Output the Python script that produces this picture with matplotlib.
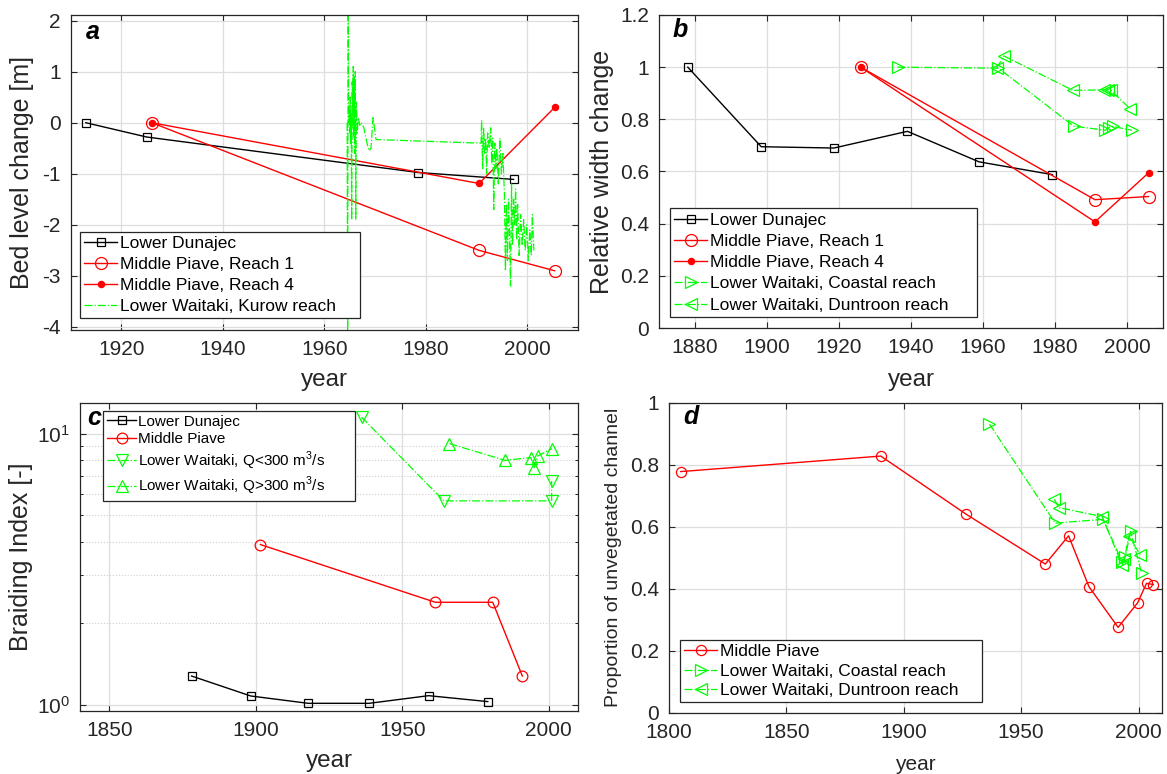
import matplotlib
matplotlib.use("Agg")
import matplotlib.pyplot as plt
from matplotlib.ticker import FormatStrFormatter, FixedLocator, LogLocator, NullFormatter

plt.rcParams['font.family'] = ['Liberation Sans', 'DejaVu Sans']
plt.rcParams['axes.unicode_minus'] = False
plt.rcParams['mathtext.fontset'] = 'custom'
plt.rcParams['mathtext.rm'] = 'Liberation Sans'

RED = (1, 0, 0)
GREEN = (0, 1, 0)
DARK = '#262626'
GRID = '#dedede'

# ---- panel a: bed level change ----
dunajecYearA = [1913, 1925, 1978.5, 1997.3]
dunajecBed = [0, -0.28, -0.975, -1.11]
piaveYearA = [1926, 1990.5, 2005.4]
piave1Bed = [0, -2.5, -2.9]
piave4Bed = [0, -1.19, 0.3]
kurowYear = [1964.5, 1964.6, 1964.7, 1964.8, 1964.9, 1965.0, 1965.1, 1965.2, 1965.3, 1965.4,
             1965.5, 1965.6, 1965.7, 1965.8, 1965.9, 1966.0, 1966.1, 1966.2, 1966.3, 1966.5,
             1966.7, 1967.0, 1967.3, 1967.8, 1968.3, 1968.8, 1969.2, 1969.6, 1970.2, 1990.9,
             1991.0, 1991.2, 1991.4, 1991.6, 1991.8, 1992.0, 1992.2, 1992.5, 1992.8, 1993.0,
             1993.2, 1993.4, 1993.6, 1993.8, 1994.0, 1994.3, 1994.6, 1994.9, 1995.2, 1995.5,
             1995.7, 1995.9, 1996.1, 1996.3, 1996.5, 1996.7, 1996.9, 1997.1, 1997.3, 1997.5,
             1997.7, 1997.9, 1998.1, 1998.4, 1998.7, 1999.0, 1999.3, 1999.6, 1999.9, 2000.2,
             2000.5, 2000.8, 2001.0, 2001.3]
kurowBed = [0.0, -4.2, 2.2, 0.0, 0.3, -0.2, 0.5, -0.4, 0.2, -1.9,
            0.8, -0.1, 1.1, -0.3, 0.9, -0.6, 1.0, -1.9, 0.4, -0.2,
            0.1, -0.05, 0.0, -0.1, -0.35, -0.55, -0.5, 0.1, -0.33, -0.4,
            0.05, -0.9, -0.1, -0.6, -0.3, -1.0, -0.2, -0.5, -0.1, -0.8,
            -0.3, -1.7, -0.4, -0.9, -0.5, -1.2, -0.3, -1.0, -0.6, -1.4,
            -2.9, -1.6, -2.7, -1.5, -2.2, -3.2, -1.2, -2.4, -1.5, -2.0,
            -1.3, -2.3, -1.6, -2.6, -1.8, -2.4, -1.9, -2.5, -2.0, -2.7,
            -2.1, -2.6, -1.8, -2.5]

# ---- panel b: relative width change ----
dunajecYearB = [1878, 1898.4, 1918.6, 1939, 1958.9, 1979.3]
dunajecWidth = [1.0, 0.695, 0.69, 0.754, 0.637, 0.588]
piaveYearB = [1926, 1991.1, 2006]
piave1Width = [1.0, 0.492, 0.504]
piave4Width = [1.0, 0.407, 0.595]
coastalYearB = [1936.3, 1964.3, 1985.2, 1994.0, 1994.9, 1996.0, 2001.4]
coastalWidth = [1.0, 0.996, 0.774, 0.758, 0.768, 0.773, 0.758]
duntroonYearB = [1963.8, 1965.8, 1985.0, 1993.5, 1994.6, 1995.5, 2000.9]
duntroonWidth = [0.996, 1.043, 0.911, 0.913, 0.913, 0.912, 0.84]

# ---- panel c: braiding index ----
dunajecYearC = [1878.1, 1898.3, 1917.9, 1938.7, 1959.0, 1979.2]
dunajecBI = [1.278, 1.079, 1.014, 1.014, 1.082, 1.029]
piaveYearC = [1901.6, 1961.3, 1980.9, 1991.0]
piaveBI = [3.90, 2.39, 2.39, 1.278]
lowQYear = [1936.1, 1964.2, 2001.0, 2001.0]
lowQBI = [11.5, 5.65, 5.65, 6.69]
highQYear = [1966.1, 1985.1, 1993.9, 1995.1, 1996.2, 2001.1]
highQBI = [9.19, 7.97, 8.16, 7.50, 8.26, 8.81]

# ---- panel d: proportion of unvegetated channel ----
piaveYearD = [1805.0, 1890.2, 1926.5, 1960.3, 1970.2, 1978.9, 1991.3, 1999.6, 2003.4, 2006.3]
piaveUnveg = [0.778, 0.828, 0.641, 0.480, 0.571, 0.407, 0.276, 0.355, 0.418, 0.414]
coastalYearD = [1936.5, 1964.5, 1984.9, 1993.0, 1994.4, 1996.6, 2001.3]
coastalUnveg = [0.931, 0.612, 0.624, 0.488, 0.504, 0.585, 0.451]
duntroonYearD = [1964.1, 1966.0, 1984.5, 1993.0, 1994.0, 1995.8, 2000.8]
duntroonUnveg = [0.689, 0.662, 0.633, 0.477, 0.495, 0.569, 0.510]

W, H = 1167, 774


def makeAxes(fig, left, right, top, bottom):
    """
    Axes from pixel edges of the 1167x774 picture
    """
    return fig.add_axes([left / W, 1 - bottom / H, (right - left) / W, (bottom - top) / H])


def styleAxes(ax):
    ax.tick_params(direction='in', top=True, right=True, length=4, width=0.8,
                   labelsize=15, colors=DARK, pad=7)
    ax.tick_params(which='minor', direction='in', top=True, right=True, length=2.5, width=0.6)
    for s in ax.spines.values():
        s.set_color(DARK)
        s.set_linewidth(0.9)
    ax.grid(True, which='major', color=GRID, linewidth=0.9)
    ax.set_axisbelow(True)


def panelLetter(ax, letter, x, y):
    ax.text(x, y, letter, transform=ax.transAxes, fontsize=18, fontweight='bold',
            fontstyle='italic', color='k', va='baseline', ha='left')


def makeLegend(ax, loc, anchor, size, spacing, pad):
    # matlab legends keep some empty room right of the texts
    handles, labels = ax.get_legend_handles_labels()
    labels = [l + ' ' * pad for l in labels]
    leg = ax.legend(handles, labels, loc=loc, bbox_to_anchor=anchor, borderaxespad=0,
                    fontsize=size, fancybox=False, framealpha=1, edgecolor=DARK,
                    handlelength=1.9, handletextpad=0.15, borderpad=0.25,
                    labelspacing=spacing)
    leg.get_frame().set_linewidth(0.9)
    return leg


fig = plt.figure(figsize=(W / 100, H / 100), dpi=100)

# a
ax = makeAxes(fig, 70.6, 578, 15, 330)
ax.plot(dunajecYearA, dunajecBed, '-s', color='k', lw=1.0, ms=6, mfc='none', mew=0.9, label='Lower Dunajec')
ax.plot(piaveYearA, piave1Bed, '-o', color=RED, lw=1.0, ms=8.6, mfc='none', mew=0.9, label='Middle Piave, Reach 1')
ax.plot(piaveYearA, piave4Bed, '-o', color=RED, lw=1.0, ms=4.5, mfc=RED, mew=0.9, label='Middle Piave, Reach 4')
ax.plot(kurowYear, kurowBed, '-.', color=GREEN, lw=0.9, label='Lower Waitaki, Kurow reach')
ax.set_xlim(1910, 2010)
ax.set_ylim(-4.06, 2.11)
ax.set_xticks([1920, 1940, 1960, 1980, 2000])
ax.set_yticks([-4, -3, -2, -1, 0, 1, 2])
styleAxes(ax)
ax.set_xlabel('year', fontsize=17.5, color=DARK)
ax.set_ylabel('Bed level change [m]', fontsize=18, color=DARK)
ax.xaxis.set_label_coords(0.5, -0.125)
ax.yaxis.set_label_coords(-0.072, 0.5)
panelLetter(ax, 'a', 0.03, 0.923)
makeLegend(ax, 'lower left', (0.0185, 0.037), 12.5, 0.33, 4)

# b
ax = makeAxes(fig, 659, 1163, 15, 328)
ax.plot(dunajecYearB, dunajecWidth, '-s', color='k', lw=1.0, ms=6, mfc='none', mew=0.9, label='Lower Dunajec')
ax.plot(piaveYearB, piave1Width, '-o', color=RED, lw=1.0, ms=8.6, mfc='none', mew=0.9, label='Middle Piave, Reach 1')
ax.plot(piaveYearB, piave4Width, '-o', color=RED, lw=1.0, ms=4.5, mfc=RED, mew=0.9, label='Middle Piave, Reach 4')
ax.plot(coastalYearB, coastalWidth, '-.>', color=GREEN, lw=0.9, ms=8.4, mfc='none', mew=0.9, label='Lower Waitaki, Coastal reach')
ax.plot(duntroonYearB, duntroonWidth, '-.<', color=GREEN, lw=0.9, ms=8.4, mfc='none', mew=0.9, label='Lower Waitaki, Duntroon reach')
ax.set_xlim(1870, 2010)
ax.set_ylim(0, 1.2)
ax.set_xticks(range(1880, 2001, 20))
ax.set_yticks([0, 0.2, 0.4, 0.6, 0.8, 1.0, 1.2])
ax.yaxis.set_major_formatter(FormatStrFormatter('%g'))
styleAxes(ax)
ax.set_xlabel('year', fontsize=17.5, color=DARK)
ax.set_ylabel('Relative width change', fontsize=18, color=DARK)
ax.xaxis.set_label_coords(0.5, -0.131)
ax.yaxis.set_label_coords(-0.089, 0.5)
panelLetter(ax, 'b', 0.026, 0.929)
makeLegend(ax, 'lower left', (0.0214, 0.035), 12.5, 0.35, 5)

# c
ax = makeAxes(fig, 80, 578, 402.7, 711)
ax.plot(dunajecYearC, dunajecBI, '-s', color='k', lw=1.0, ms=6.2, mfc='none', mew=0.9, label='Lower Dunajec')
ax.plot(piaveYearC, piaveBI, '-o', color=RED, lw=1.0, ms=7.7, mfc='none', mew=0.9, label='Middle Piave')
ax.plot(lowQYear, lowQBI, '-.v', color=GREEN, lw=0.9, ms=8.4, mfc='none', mew=0.9, label='Lower Waitaki, Q<300 m$^3$/s')
ax.plot(highQYear, highQBI, '-.^', color=GREEN, lw=0.9, ms=8.4, mfc='none', mew=0.9, label='Lower Waitaki, Q>300 m$^3$/s')
ax.set_yscale('log')
ax.set_xlim(1840, 2010)
ax.set_ylim(0.95, 13)
ax.set_xticks([1850, 1900, 1950, 2000])
ax.yaxis.set_major_locator(FixedLocator([1, 10]))
ax.yaxis.set_minor_locator(LogLocator(base=10, subs=range(2, 10)))
ax.yaxis.set_minor_formatter(NullFormatter())
styleAxes(ax)
ax.grid(True, which='minor', axis='y', color='#cfcfcf', linewidth=0.8, linestyle=':')
ax.set_xlabel('year', fontsize=17.5, color=DARK)
ax.set_ylabel('Braiding Index [-]', fontsize=18, color=DARK)
ax.xaxis.set_label_coords(0.5, -0.127)
ax.yaxis.set_label_coords(-0.094, 0.5)
panelLetter(ax, 'c', 0.015, 0.928)
makeLegend(ax, 'upper left', (0.0466, 0.974), 11, 0.22, 7)

# d
ax = makeAxes(fig, 669, 1162, 402.7, 713)
ax.plot(piaveYearD, piaveUnveg, '-o', color=RED, lw=1.0, ms=7.3, mfc='none', mew=0.9, label='Middle Piave')
ax.plot(coastalYearD, coastalUnveg, '-.>', color=GREEN, lw=0.9, ms=8.4, mfc='none', mew=0.9, label='Lower Waitaki, Coastal reach')
ax.plot(duntroonYearD, duntroonUnveg, '-.<', color=GREEN, lw=0.9, ms=8.4, mfc='none', mew=0.9, label='Lower Waitaki, Duntroon reach')
ax.set_xlim(1800, 2010)
ax.set_ylim(0, 1)
ax.set_xticks([1800, 1850, 1900, 1950, 2000])
ax.set_yticks([0, 0.2, 0.4, 0.6, 0.8, 1.0])
ax.yaxis.set_major_formatter(FormatStrFormatter('%g'))
styleAxes(ax)
ax.set_xlabel('year', fontsize=15, color=DARK)
ax.set_ylabel('Proportion of unvegetated channel', fontsize=14, color=DARK)
ax.xaxis.set_label_coords(0.5, -0.135)
ax.yaxis.set_label_coords(-0.095, 0.5)
panelLetter(ax, 'd', 0.028, 0.93)
makeLegend(ax, 'lower left', (0.022, 0.034), 12.5, 0.25, 4)

fig.savefig('out.png', dpi=100)
